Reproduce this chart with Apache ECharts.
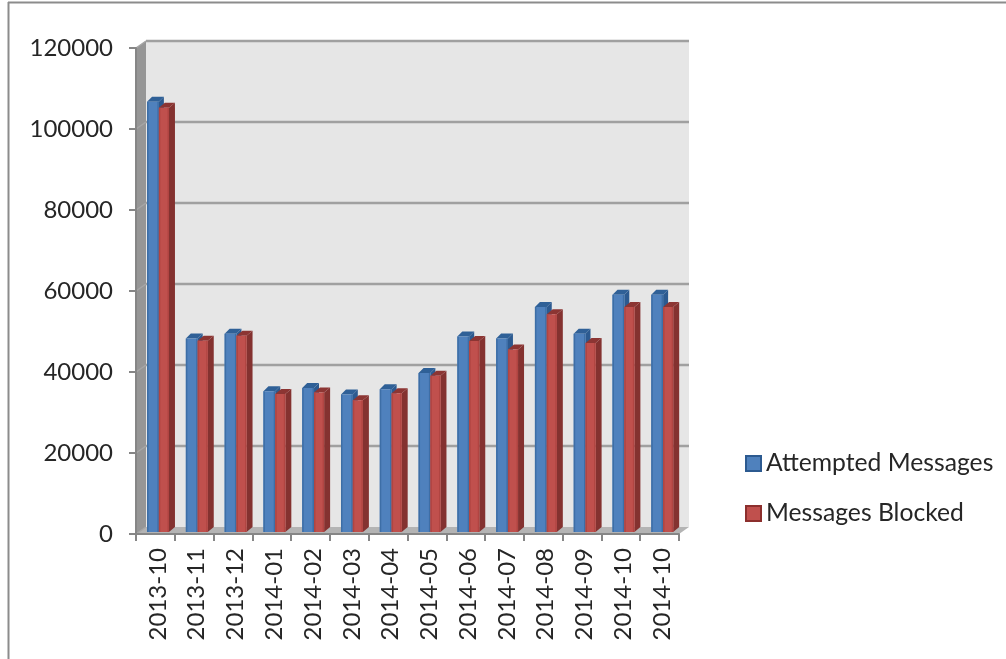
<!DOCTYPE html>
<html><head><meta charset="utf-8">
<style>html,body{margin:0;padding:0;background:#fff}#c{width:1006px;height:659px}</style>
<script src="https://cdn.jsdelivr.net/npm/echarts@6/dist/echarts.min.js"></script>
</head><body><div id="c"></div>
<script>
const categories = ['2013-10','2013-11','2013-12','2014-01','2014-02','2014-03','2014-04','2014-05','2014-06','2014-07','2014-08','2014-09','2014-10','2014-10'];
const attempted = [106500,48000,49200,35000,35800,34200,35500,39500,48500,48000,55800,49200,58800,58800];
const blocked = [105000,47500,48700,34300,34700,32800,34500,38800,47400,45300,54000,46900,55800,55800];
const yTicks = [0,20000,40000,60000,80000,100000,120000];
const DX = 10, DY = 7;

function poly(points, fill, stroke, lw) {
  return {type:'polygon', shape:{points}, style:{fill, stroke:stroke||null, lineWidth:lw||0}};
}
function frameItem(params, api) {
  const c = params.coordSys;
  const l = c.x, r = c.x + c.width, b = c.y + c.height;
  const kids = [
    poly([[l+DX,c.y-DY],[r+DX,c.y-DY],[r+DX,b-DY],[l+DX,b-DY]], '#e6e6e6'),
    poly([[l,c.y],[l+DX,c.y-DY],[l+DX,b-DY],[l,b]], '#969696'),
    poly([[l,b],[l+DX,b-DY],[r+DX,b-DY],[r,b]], '#b4b4b4')
  ];
  yTicks.forEach(t => {
    const y = api.coord([0,t])[1];
    if (t > 0) kids.push({type:'line', shape:{x1:l+DX,y1:y-DY,x2:r+DX,y2:y-DY}, style:{stroke:'#a0a0a0',lineWidth:2.5}});
    kids.push({type:'line', shape:{x1:l,y1:y,x2:l+DX,y2:y-DY}, style:{stroke:'#a6a6a6',lineWidth:1.5}});
  });
  return {type:'group', children:kids};
}
function barItem(cfg) {
  return function(params, api) {
    const band = api.size([1,0])[0];
    const center = api.coord([api.value(0),0])[0];
    const left = center - band/2;
    const x0 = left + band*cfg.start, x1 = left + band*cfg.end;
    const top = api.coord([api.value(0),api.value(1)])[1] - 1;
    const base = api.coord([api.value(0),0])[1] - 2;
    const d = cfg.depth, u = 5;
    return {type:'group', children:[
      poly([[x1,top],[x1+d,top-u],[x1+d,base-u],[x1,base]], cfg.side),
      poly([[x0,top],[x0+d,top-u],[x1+d,top-u],[x1,top]], cfg.topc),
      {type:'rect', shape:{x:x0,y:top,width:x1-x0,height:base-top}, style:{fill:cfg.front}},
      {type:'rect', shape:{x:x0,y:top,width:1.5,height:base-top}, style:{fill:cfg.edge}},
      {type:'rect', shape:{x:x1-1.5,y:top,width:1.5,height:base-top}, style:{fill:cfg.edge}}
    ]};
  };
}
const chart = echarts.init(document.getElementById('c'), null, {renderer:'canvas'});
const fontFamily = 'Lato, "Open Sans", sans-serif';
chart.setOption({
  animation:false,
  backgroundColor:'#fff',
  graphic:[
    {type:'line', z:10, shape:{x1:8,y1:2.5,x2:1006,y2:2.5}, style:{stroke:'#8c8c8c',lineWidth:2}},
    {type:'line', z:10, shape:{x1:8.5,y1:2,x2:8.5,y2:659}, style:{stroke:'#8c8c8c',lineWidth:2}}
  ],
  grid:{left:136,top:48,width:543,height:486,containLabel:false},
  legend:{
    left:745, top:451, padding:0, orient:'vertical', itemWidth:15, itemHeight:15, itemGap:25,
    data:['Attempted Messages','Messages Blocked'],
    icon:'rect',
    textStyle:{fontFamily,fontSize:24.7,color:'#262626',padding:[0,0,0,0]}
  },
  xAxis:{
    type:'category', data:categories, z:3,
    axisLine:{lineStyle:{color:'#868686',width:2}},
    axisTick:{show:true,alignWithLabel:false,length:7,lineStyle:{color:'#868686',width:2}},
    axisLabel:{rotate:90,interval:0,margin:14,fontFamily,fontSize:24,color:'#262626',
      formatter:v=>'{a|'+v+'}',
      rich:{a:{fontFamily,fontSize:24,color:'#262626',padding:[5,0,0,0]}}},
    splitLine:{show:false}
  },
  yAxis:{
    type:'value', min:0, max:120000, interval:20000, z:3,
    axisLine:{show:true,lineStyle:{color:'#868686',width:2}},
    axisTick:{show:true,length:7,lineStyle:{color:'#868686',width:2}},
    axisLabel:{margin:23,fontFamily,fontSize:24,color:'#262626',formatter:v=>String(v)},
    splitLine:{show:false}
  },
  series:[
    {type:'custom', name:'frame', z:1, data:[[0,0]], renderItem:frameItem, silent:true, encode:{x:0,y:1}},
    {type:'custom', name:'Attempted Messages', z:2, encode:{x:0,y:1},
     itemStyle:{color:'#4f81bd',borderColor:'#2c5a90',borderWidth:1.5},
     data:attempted.map((v,i)=>[i,v]),
     renderItem:barItem({start:0.285,end:0.59,depth:5,front:'#4f81bd',side:'#2c5a90',topc:'#2f6097',edge:'#3d6ea6'})},
    {type:'custom', name:'Messages Blocked', z:2, encode:{x:0,y:1},
     itemStyle:{color:'#c0504d',borderColor:'#8c2f2d',borderWidth:1.5},
     data:blocked.map((v,i)=>[i,v]),
     renderItem:barItem({start:0.59,end:0.85,depth:6,front:'#c0504d',side:'#843230',topc:'#8c3533',edge:'#b04542'})}
  ]
});
</script></body></html>
